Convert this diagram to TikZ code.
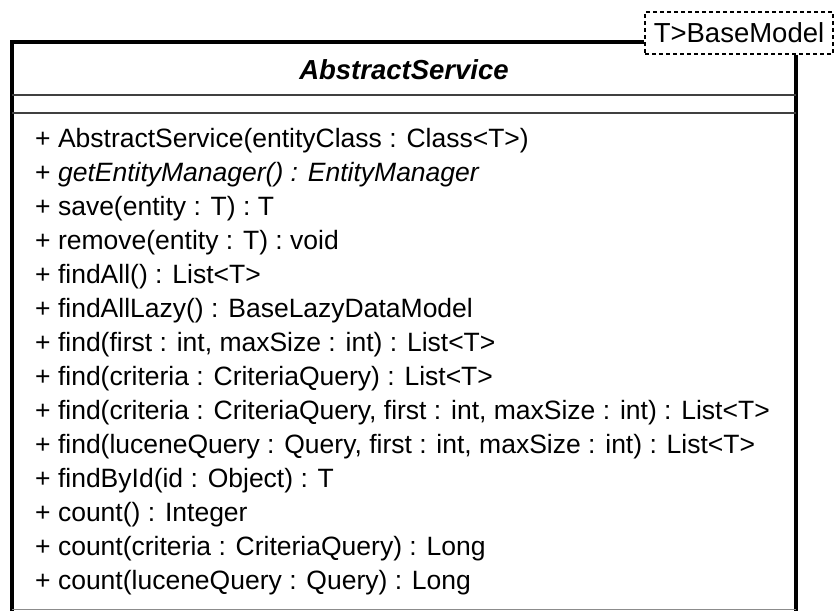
\documentclass[tikz,border=0pt]{standalone}
\usepackage{fontspec}
\setmainfont{Liberation Sans}
\tikzstyle{border}=[line width=4pt]
\tikzstyle{divider}=[line width=2pt,black!75]
\tikzstyle{template}=[draw,line width=1.5pt,dash pattern=on 4pt off 3pt,inner sep=0pt,font=\fontsize{27.5}{30}\selectfont]
\tikzstyle{method}=[anchor=west,inner sep=0pt,font=\fontsize{26.5}{30}\selectfont]

\begin{document}
\begin{tikzpicture}[x=1pt,y=-1pt]  % class box, one pt per pixel
\useasboundingbox (0,0) rectangle (835,611);

\node[template,minimum width=188pt,minimum height=42pt] (param) at (739,33) {T>BaseModel};

\draw[border] (param.west |- 0,42)
      to  (12,42)
      to  (12,611);
\draw[border] (param.south -| 796,0)
      to  (796,611);
\draw[line width=1pt,black!45] (12,609) to (796,609);

\node[font=\bfseries\itshape\fontsize{27.5}{30}\selectfont] (name) at (404,70) {AbstractService};
\draw[divider] (12,95) to (796,95);
\draw[divider] (12,113) to (796,113);

\node[method] (m0) at (35,141) {+ AbstractService(entityClass : Class<T>)};
\node[method] (m1) at (35,175) {+ \textit{getEntityManager() : EntityManager}};
\node[method] (m2) at (35,209) {+ save(entity : T) : T};
\node[method] (m3) at (35,243) {+ remove(entity : T) : void};
\node[method] (m4) at (35,277) {+ findAll() : List<T>};
\node[method] (m5) at (35,311) {+ findAllLazy() : BaseLazyDataModel};
\node[method] (m6) at (35,345) {+ find(first : int, maxSize : int) : List<T>};
\node[method] (m7) at (35,379) {+ find(criteria : CriteriaQuery) : List<T>};
\node[method] (m8) at (35,413) {+ find(criteria : CriteriaQuery, first : int, maxSize : int) : List<T>};
\node[method] (m9) at (35,447) {+ find(luceneQuery : Query, first : int, maxSize : int) : List<T>};
\node[method] (m10) at (35,481) {+ findById(id : Object) : T};
\node[method] (m11) at (35,515) {+ count() : Integer};
\node[method] (m12) at (35,549) {+ count(criteria : CriteriaQuery) : Long};
\node[method] (m13) at (35,583) {+ count(luceneQuery : Query) : Long};
\end{tikzpicture}
\end{document}
